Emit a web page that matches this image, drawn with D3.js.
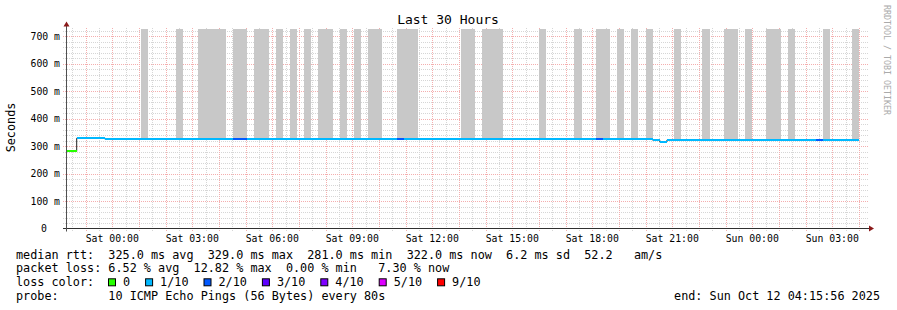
<!DOCTYPE html>
<html>
<head>
<meta charset="utf-8">
<script src="https://cdn.jsdelivr.net/npm/d3@7"></script>
<style>
  body { margin: 0; background: #fff; }
  text { font-family: 'DejaVu Sans Mono', monospace; white-space: pre; }
</style>
</head>
<body>
<div id="chart"></div>
<script>
// time window of the graph (Oct 2025)
var startTime = '10 22:15:56';
var endTime = '12 04:15:56';
var yMax = 729;
var yTicks = [0, 100, 200, 300, 400, 500, 600, 700];

// median rtt (ms) from each time on, last sample ends at dataEnd
var medianFrom = ['10 22:16', '10 22:40', '10 23:44', '11 20:16', '11 20:32', '11 20:48'];
var medianMs = [281, 329, 325, 322, 316, 322];
var dataEnd = '12 04:00';

// packet loss level (index into lossLabels) from each time on
var lossFrom = ['10 22:16', '10 22:40', '11 04:32', '11 05:04', '11 10:40', '11 10:56',
  '11 18:08', '11 18:24', '12 02:24', '12 02:40'];
var lossLevel = [0, 1, 2, 1, 2, 1, 2, 1, 2, 1];

// smoke (ping spread) periods
var smokeFrom = ['11 01:04', '11 02:24', '11 03:12', '11 04:32', '11 05:20', '11 06:08', '11 06:40',
  '11 07:12', '11 07:44', '11 08:32', '11 09:04', '11 09:36', '11 10:40', '11 13:04', '11 13:52',
  '11 16:00', '11 17:20', '11 18:08', '11 18:56', '11 19:28', '11 20:00', '11 21:04', '11 22:08',
  '11 22:56', '11 23:44', '12 00:32', '12 01:20', '12 02:40', '12 03:44'];
var smokeTo = ['11 01:20', '11 02:40', '11 04:16', '11 05:04', '11 05:52', '11 06:24', '11 06:56',
  '11 07:28', '11 08:16', '11 08:48', '11 09:20', '11 10:08', '11 11:28', '11 13:36', '11 14:40',
  '11 16:16', '11 17:36', '11 18:40', '11 19:12', '11 19:44', '11 20:16', '11 21:20', '11 22:24',
  '11 23:28', '12 00:00', '12 01:04', '12 01:36', '12 02:56', '12 04:00'];

var lossLabels = ['0', '1/10', '2/10', '3/10', '4/10', '5/10', '9/10'];
var lossColors = ['#26ff00', '#00b8ff', '#0059ff', '#5e00ff', '#7e00ff', '#dd00ff', '#ff0000'];

var legendRows = [
  'median rtt:  325.0 ms avg  329.0 ms max  281.0 ms min  322.0 ms now  6.2 ms sd  52.2   am/s',
  'packet loss: 6.52 % avg  12.82 % max  0.00 % min   7.30 % now',
  'loss color:',
  'probe:       10 ICMP Echo Pings (56 Bytes) every 80s'
];
var endLabel = 'end: Sun Oct 12 04:15:56 2025';

(function () {
  'use strict';
  var width = 897;
  var height = 310;
  var left = 66;
  var right = 866;
  var top = 28.5;
  var bottom = 228.5;
  var gridColor = '#d6d6d6';
  var mgridColor = '#f4aeae';
  var arrowColor = '#8b1a1a';

  var parse = function (s) {
    var p = d3.timeParse('%Y-%m-%d %H:%M:%S');
    return p('2025-10-' + (s.length === 8 ? s + ':00' : s));
  };

  var x = d3.scaleTime()
    .domain([parse(startTime), parse(endTime)])
    .range([left, right]);
  var y = d3.scaleLinear()
    .domain([0, yMax])
    .range([bottom, top]);

  var svg = d3.select('#chart').append('svg')
    .attr('width', width)
    .attr('height', height)
    .style('background-color', '#fff');

  createGrid(svg);
  createSmoke(svg);
  createMedian(svg);
  createAxes(svg);
  createTexts(svg);
  createLegend(svg);

  function medianAt(t) {
    var i = d3.bisectRight(medianFrom.map(parse), t) - 1;
    return medianMs[Math.max(0, i)];
  }

  // 网格
  function createGrid(dom) {
    var g = dom.append('g').attr('shape-rendering', 'crispEdges');
    var hours = x.ticks(d3.timeHour.every(1)).map(Number);
    var halfHours = x.ticks(d3.timeMinute.every(30)).filter(function (d) {
      return hours.indexOf(+d) < 0;
    });
    var minorY = d3.range(0, yMax, 20).filter(function (d) { return d % 100 !== 0; });

    g.selectAll('line.minor-x')
      .data(halfHours)
      .enter().append('line')
      .attr('x1', function (d) { return Math.round(x(d)) + 0.5; })
      .attr('x2', function (d) { return Math.round(x(d)) + 0.5; })
      .attr('y1', top - 1)
      .attr('y2', bottom + 3)
      .attr('stroke', gridColor)
      .attr('stroke-dasharray', '1,1');

    g.selectAll('line.minor-y')
      .data(minorY)
      .enter().append('line')
      .attr('x1', left - 3)
      .attr('x2', right + 3)
      .attr('y1', function (d) { return Math.round(y(d)) + 0.5; })
      .attr('y2', function (d) { return Math.round(y(d)) + 0.5; })
      .attr('stroke', gridColor)
      .attr('stroke-dasharray', '1,1');

    g.selectAll('line.major-x')
      .data(hours)
      .enter().append('line')
      .attr('x1', function (d) { return Math.round(x(d)) + 0.5; })
      .attr('x2', function (d) { return Math.round(x(d)) + 0.5; })
      .attr('y1', top - 1)
      .attr('y2', bottom + 3)
      .attr('stroke', mgridColor)
      .attr('stroke-dasharray', '1,1');

    g.selectAll('line.major-y')
      .data(yTicks.slice(1))
      .enter().append('line')
      .attr('x1', left - 3)
      .attr('x2', right + 3)
      .attr('y1', function (d) { return Math.round(y(d)) + 0.5; })
      .attr('y2', function (d) { return Math.round(y(d)) + 0.5; })
      .attr('stroke', mgridColor)
      .attr('stroke-dasharray', '1,1');
  }

  // 烟雾
  function createSmoke(dom) {
    dom.append('clipPath').attr('id', 'plot-clip')
      .append('rect')
      .attr('x', left).attr('y', top)
      .attr('width', right - left).attr('height', bottom - top);

    var data = smokeFrom.map(function (s, i) {
      return { from: parse(s), to: parse(smokeTo[i]) };
    });
    dom.append('g')
      .attr('clip-path', 'url(#plot-clip)')
      .attr('shape-rendering', 'crispEdges')
      .selectAll('rect')
      .data(data)
      .enter().append('rect')
      .attr('x', function (d) { return Math.round(x(d.from)); })
      .attr('width', function (d) { return Math.round(x(d.to)) - Math.round(x(d.from)); })
      .attr('y', y(yMax))
      .attr('height', function (d) { return y(medianAt(d.from)) - y(yMax); })
      .attr('fill', '#c8c8c8');
  }

  // 中位数线
  function createMedian(dom) {
    var endT = parse(dataEnd);
    var pts = medianFrom.map(function (s, i) { return [parse(s), medianMs[i]]; });
    pts.push([endT, medianMs[medianMs.length - 1]]);

    var line = d3.line()
      .x(function (d) { return x(d[0]); })
      .y(function (d) { return y(d[1]); })
      .curve(d3.curveStepAfter);

    dom.append('path')
      .attr('d', line(pts))
      .attr('fill', 'none')
      .attr('stroke', '#202020')
      .attr('stroke-width', 1);

    // break into pieces wherever median or loss changes
    var breaks = medianFrom.concat(lossFrom).map(parse).map(Number);
    breaks.push(+endT);
    breaks = Array.from(new Set(breaks)).sort(d3.ascending);
    var lossTimes = lossFrom.map(parse);
    var pieces = [];
    for (var i = 0; i < breaks.length - 1; i++) {
      var t0 = new Date(breaks[i]);
      var t1 = new Date(breaks[i + 1]);
      var li = d3.bisectRight(lossTimes, t0) - 1;
      pieces.push({ t0: t0, t1: t1, v: medianAt(t0), loss: lossLevel[li] });
    }

    dom.append('g')
      .attr('shape-rendering', 'crispEdges')
      .selectAll('line')
      .data(pieces)
      .enter().append('line')
      .attr('x1', function (d) { return Math.round(x(d.t0)); })
      .attr('x2', function (d) { return Math.round(x(d.t1)); })
      .attr('y1', function (d) { return y(d.v); })
      .attr('y2', function (d) { return y(d.v); })
      .attr('stroke', function (d) { return lossColors[d.loss]; })
      .attr('stroke-width', 2);
  }

  // 坐标轴
  function createAxes(dom) {
    var g = dom.append('g');
    g.append('line')
      .attr('x1', left - 3).attr('x2', right + 4)
      .attr('y1', bottom).attr('y2', bottom)
      .attr('stroke', '#303030');
    g.append('line')
      .attr('x1', left + 0.5).attr('x2', left + 0.5)
      .attr('y1', bottom + 3).attr('y2', top - 3)
      .attr('stroke', '#505050');
    g.append('path')
      .attr('d', 'M' + (right + 3) + ',' + (bottom - 3) + 'L' + (right + 8) + ',' + bottom + 'L' + (right + 3) + ',' + (bottom + 3) + 'Z')
      .attr('fill', arrowColor);
    g.append('path')
      .attr('d', 'M' + (left - 2.5) + ',' + (top - 2) + 'L' + (left + 0.5) + ',' + (top - 7) + 'L' + (left + 3.5) + ',' + (top - 2) + 'Z')
      .attr('fill', arrowColor);

    // x labels
    g.selectAll('text.x-label')
      .data(x.ticks(d3.timeHour.every(3)))
      .enter().append('text')
      .attr('x', function (d) { return x(d); })
      .attr('y', bottom + 13)
      .attr('text-anchor', 'middle')
      .style('font-size', '9.8px')
      .attr('fill', '#000')
      .text(d3.timeFormat('%a %H:%M'));

    // y labels
    g.selectAll('text.y-label')
      .data(yTicks)
      .enter().append('text')
      .attr('x', function (d) { return d === 0 ? left - 19 : left - 6; })
      .attr('y', function (d) { return y(d) + 3.5; })
      .attr('text-anchor', 'end')
      .style('font-size', '9.8px')
      .attr('fill', '#000')
      .text(function (d) { return d === 0 ? '0' : d + ' m'; });
  }

  function createTexts(dom) {
    dom.append('text')
      .attr('x', 448)
      .attr('y', 24)
      .attr('text-anchor', 'middle')
      .style('font-size', '13px')
      .text('Last 30 Hours');

    dom.append('text')
      .attr('transform', 'translate(15,' + ((top + bottom) / 2 - 1) + ') rotate(-90)')
      .attr('text-anchor', 'middle')
      .style('font-size', '11.8px')
      .text('Seconds');

    dom.append('text')
      .attr('transform', 'translate(884,5) rotate(90)')
      .style('font-size', '8.3px')
      .attr('fill', '#aaa')
      .text('RRDTOOL / TOBI OETIKER');
  }

  // 图例
  function createLegend(dom) {
    var x0 = 16;
    var rowY = function (i) { return 258.5 + i * 13.9; };
    dom.selectAll('text.legend')
      .data(legendRows)
      .enter().append('text')
      .attr('xml:space', 'preserve')
      .attr('x', x0)
      .attr('y', function (d, i) { return rowY(i); })
      .style('font-size', '11.8px')
      .text(function (d) { return d; });

    dom.append('text')
      .attr('x', 880)
      .attr('y', rowY(3))
      .attr('text-anchor', 'end')
      .style('font-size', '11.8px')
      .text(endLabel);

    var cx = 108;
    lossLabels.forEach(function (lab, i) {
      dom.append('rect')
        .attr('x', cx + 0.5)
        .attr('y', rowY(2) - 7.5)
        .attr('width', 7)
        .attr('height', 7)
        .attr('fill', lossColors[i])
        .attr('stroke', '#000')
        .attr('stroke-width', 1);
      dom.append('text')
        .attr('x', cx + 15)
        .attr('y', rowY(2))
        .style('font-size', '11.8px')
        .text(lab);
      cx += 15 + lab.length * 7.1 + 15;
    });
  }
})();
</script>
</body>
</html>
